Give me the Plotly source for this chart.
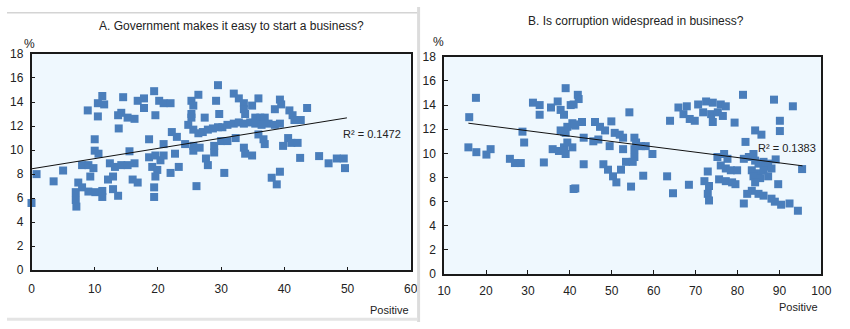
import plotly.graph_objects as go

# ---- Panel A: Government makes it easy to start a business? ----
a_x = [0, 0.8, 3.5, 5.0, 7.4, 7.0, 7.0, 7.1, 8.0, 9.0, 10.1, 11.2, 11.2, 8.0, 9.0, 9.8, 9.3,
       10.0, 10.0, 10.6, 8.9, 10.5, 11.2, 10.5, 11.5, 14.5, 16.8, 14.2, 15.2, 16.3, 13.7, 13.8,
       15.5, 12.4, 13.2, 14.2, 15.2, 16.3, 12.1, 12.9, 12.9, 13.7, 16.0, 16.8, 17.8, 19.4, 20.2,
       20.9, 22.0, 17.8, 19.6, 18.6, 20.9, 22.2, 23.0, 18.6, 19.6, 20.4, 20.9, 19.1, 19.9, 19.6,
       19.4, 19.4, 22.0, 23.3, 22.7, 26.1, 25.3, 26.4, 25.6, 25.3, 25.3, 27.4, 29.5, 29.2, 29.7,
       24.8, 25.6, 26.4, 27.1, 27.9, 28.7, 29.5, 30.2, 31.0, 32.0, 32.8, 33.6, 34.6, 24.3, 25.6,
       25.6, 26.6, 28.9, 28.9, 30.0, 31.0, 32.3, 27.6, 27.9, 30.5, 32.0, 32.8, 33.6, 33.6, 33.8,
       33.6, 33.8, 35.9, 34.9, 39.3, 39.5, 38.5, 40.8, 41.3, 41.6, 42.6, 43.6, 35.4, 36.2, 36.9,
       35.4, 36.4, 37.5, 38.5, 39.3, 35.9, 36.7, 36.9, 34.9, 40.6, 39.8, 41.1, 42.1, 42.5, 45.5,
       47.0, 48.3, 49.4, 49.6, 38.0, 39.3, 38.8]
a_y = [5.6, 8.0, 7.4, 8.3, 7.3, 6.5, 5.85, 5.3, 6.9, 6.55, 6.5, 6.6, 6.1, 8.75, 8.75, 8.5, 7.8,
       10.9, 9.95, 9.7, 13.3, 12.8, 14.5, 13.9, 13.8, 14.4, 14.1, 13.1, 12.7, 12.6, 12.9, 11.8,
       9.9, 8.9, 8.6, 8.75, 8.75, 8.9, 7.55, 7.8, 6.75, 6.2, 7.55, 7.3, 14.3, 14.9, 14.1,
       13.9, 13.9, 13.5, 12.9, 10.9, 10.5, 11.5, 11.1, 9.4, 9.55, 9.15, 9.55, 8.6, 8.35, 7.8,
       6.9, 6.1, 8.1, 8.6, 9.7, 7.0, 14.1, 14.6, 13.7, 13.0, 12.7, 12.7, 15.4, 14.1, 13.0,
       12.1, 11.7, 11.4, 11.5, 11.7, 11.8, 11.9, 11.9, 12.1, 12.2, 12.3, 12.2, 12.3, 10.5, 10.35,
       9.95, 10.2, 10.35, 9.8, 10.75, 10.75, 11.0, 9.3, 8.75, 8.1, 14.7, 14.3, 13.9, 13.4, 13.0,
       10.2, 9.7, 14.3, 13.7, 14.2, 13.8, 13.4, 13.3, 12.9, 12.5, 12.5, 13.5, 12.7, 12.7, 12.7,
       12.2, 12.1, 12.2, 12.1, 12.2, 11.3, 10.9, 10.5, 9.55, 11.0, 10.35, 10.6, 10.6, 9.35, 9.5,
       8.9, 9.3, 9.3, 8.5, 7.7, 8.2, 7.15]
a_trend_x = [0, 49.9]
a_trend_y = [8.44, 12.68]
a_r2 = "R² = 0.1472"

# ---- Panel B: Is corruption widespread in business? ----
b_x = [15.8, 16.0, 17.6, 17.7, 20.1, 21.1, 25.7, 26.9, 28.3, 28.7, 29.1, 33.8, 31.2, 32.8, 32.8,
       35.5, 37.1, 37.8, 38.6, 39.0, 40.2, 37.8, 39.4, 40.6, 39.0, 35.9, 37.4, 38.6, 39.4, 39.0,
       40.9, 41.9, 40.9, 41.3, 42.9, 40.6, 43.3, 46.0, 47.2, 48.4, 49.9, 50.7, 51.9, 52.7, 55.4,
       55.8, 57.0, 58.1, 45.6, 46.8, 49.5, 52.7, 55.4, 59.7, 54.2, 43.3, 48.0, 49.1, 50.3, 51.1,
       52.2, 53.4, 55.4, 55.0, 41.3, 54.6, 57.5, 63.2, 64.6, 68.4, 63.9, 65.9, 67.9, 67.1, 68.6,
       70.6, 72.5, 74.1, 76.0, 77.2, 71.8, 73.7, 75.3, 76.5, 74.1, 69.8, 81.3, 88.7, 93.2, 79.3,
       90.1, 90.1, 84.2, 85.7, 81.9, 89.1, 95.4, 75.2, 76.8, 77.6, 76.0, 77.2, 78.4, 79.9, 81.5,
       82.7, 83.8, 84.2, 85.0, 86.2, 86.6, 87.3, 88.1, 83.4, 85.0, 86.2, 72.9, 72.1, 73.2, 72.9,
       73.2, 75.6, 77.2, 78.7, 79.5, 83.8, 85.4, 87.3, 89.7, 84.2, 83.4, 82.3, 85.0, 86.2, 88.1,
       88.9, 90.4, 92.4, 94.4, 81.5, 42.1, 38.6, 41.0]
b_y = [10.5, 13.0, 14.6, 10.1, 9.9, 10.35, 9.55, 9.2, 9.2, 11.8, 10.9, 9.25, 14.2, 14.0, 13.2,
       13.8, 14.3, 13.6, 13.2, 15.4, 14.0, 11.9, 12.2, 12.5, 11.7, 10.35, 10.2, 10.5, 10.9, 9.95,
       7.05, 14.85, 14.05, 12.3, 12.6, 10.5, 11.3, 12.6, 12.2, 11.9, 12.65, 11.7, 11.55, 11.3, 11.3,
       10.9, 10.6, 10.6, 11.0, 11.15, 10.6, 10.35, 10.35, 9.95, 13.4, 9.1, 9.1, 8.65, 8.1, 7.6,
       8.65, 9.3, 9.7, 9.3, 7.1, 7.25, 8.15, 8.1, 6.7, 7.4, 12.7, 13.8, 13.9, 13.25, 12.85,
       14.05, 14.3, 14.2, 14.05, 13.9, 13.4, 13.25, 13.4, 13.1, 12.6, 12.7, 14.85, 14.45, 13.9, 12.55,
       12.7, 11.85, 11.9, 11.55, 10.95, 9.5, 8.7, 9.7, 9.95, 9.55, 9.0, 8.75, 8.6, 8.6, 9.55,
       9.7, 9.95, 9.4, 9.15, 9.3, 8.9, 9.15, 8.75, 8.6, 8.35, 8.6, 8.5, 7.7, 7.3, 6.65,
       6.1, 7.85, 7.7, 7.6, 7.45, 8.1, 7.95, 8.1, 7.45, 7.6, 6.9, 6.65, 6.65, 6.5, 6.25,
       6.0, 5.75, 5.85, 5.25, 5.85, 14.5, 11.8, 12.4]
b_trend_x = [15.8, 95.5]
b_trend_y = [12.5, 8.97]
b_r2 = "R² = 0.1383"

titles = ["A. Government makes it easy to start a business?",
          "B. Is corruption widespread in business?"]
y_unit = "%"
x_label = "Positive"

W, H = 850, 329
FONT = "Liberation Sans, Arial, sans-serif"
BLUE = "#4a7ebb"
PLOT_BG = "#eff8fe"


def px(x):
    return x / W


def py(y):
    return 1 - y / H


fig = go.Figure()

fig.add_trace(go.Scatter(x=a_x, y=a_y, mode="markers", xaxis="x", yaxis="y",
                         marker=dict(symbol="square", size=8, color=BLUE),
                         cliponaxis=False, showlegend=False, hoverinfo="x+y"))
fig.add_trace(go.Scatter(x=a_trend_x, y=a_trend_y, mode="lines", xaxis="x", yaxis="y",
                         line=dict(color="#111111", width=1), showlegend=False))
fig.add_trace(go.Scatter(x=b_x, y=b_y, mode="markers", xaxis="x2", yaxis="y2",
                         marker=dict(symbol="square", size=8, color=BLUE),
                         cliponaxis=False, showlegend=False, hoverinfo="x+y"))
fig.add_trace(go.Scatter(x=b_trend_x, y=b_trend_y, mode="lines", xaxis="x2", yaxis="y2",
                         line=dict(color="#111111", width=1), showlegend=False))

axis_common = dict(showline=True, mirror=True, linecolor="#1a1a1a", linewidth=1.5,
                   ticks="inside", ticklen=4, tickcolor="#1a1a1a", tickwidth=1,
                   showgrid=False, zeroline=False,
                   tickfont=dict(family=FONT, size=12, color="#222222"))

fig.update_layout(
    width=W, height=H,
    margin=dict(l=0, r=0, t=0, b=0),
    paper_bgcolor="white",
    plot_bgcolor=PLOT_BG,
    font=dict(family=FONT, size=12, color="#222222"),
    xaxis=dict(domain=[px(25), px(412)], range=[0, 60], dtick=10, anchor="y",
               ticklabelstandoff=7, **axis_common),
    yaxis=dict(domain=[py(275), py(49)], range=[0, 18], dtick=2, anchor="x",
               ticklabelstandoff=4, **axis_common),
    xaxis2=dict(domain=[px(446), px(831)], range=[10, 100], dtick=10, anchor="y2",
                ticklabelstandoff=5, **axis_common),
    yaxis2=dict(domain=[py(279), py(52)], range=[0, 18], dtick=2, anchor="x2",
                ticklabelstandoff=4, **axis_common),
)

annots = [
    dict(text=titles[0], x=px(229), y=py(20), xref="paper", yref="paper",
         showarrow=False, xanchor="center", yanchor="middle", font=dict(size=12)),
    dict(text=titles[1], x=px(642), y=py(15), xref="paper", yref="paper",
         showarrow=False, xanchor="center", yanchor="middle", font=dict(size=12)),
    dict(text=y_unit, x=px(23), y=py(39), xref="paper", yref="paper",
         showarrow=False, xanchor="center", yanchor="middle", font=dict(size=12)),
    dict(text=y_unit, x=px(440), y=py(37), xref="paper", yref="paper",
         showarrow=False, xanchor="center", yanchor="middle", font=dict(size=12)),
    dict(text=x_label, x=px(390), y=py(316), xref="paper", yref="paper",
         showarrow=False, xanchor="center", yanchor="middle", font=dict(size=11)),
    dict(text=x_label, x=px(808), y=py(313), xref="paper", yref="paper",
         showarrow=False, xanchor="center", yanchor="middle", font=dict(size=11)),
    dict(text=a_r2, x=px(404), y=py(133), xref="paper", yref="paper",
         showarrow=False, xanchor="right", yanchor="middle", font=dict(size=11)),
    dict(text=b_r2, x=px(828), y=py(147), xref="paper", yref="paper",
         showarrow=False, xanchor="right", yanchor="middle", font=dict(size=11)),
]
fig.update_layout(annotations=annots)

# faint frame lines of the original screenshot
shapes = [
    dict(type="line", xref="paper", yref="paper", x0=0, x1=px(419), y0=py(6), y1=py(6),
         line=dict(color="#d4d4d4", width=1.5)),
    dict(type="line", xref="paper", yref="paper", x0=px(420), x1=px(420), y0=0, y1=1,
         line=dict(color="#dcdcdc", width=3)),
    dict(type="line", xref="paper", yref="paper", x0=0, x1=px(419), y0=py(326), y1=py(326),
         line=dict(color="#e4e4e4", width=3)),
]
fig.update_layout(shapes=shapes)

fig.write_html("out.html")
